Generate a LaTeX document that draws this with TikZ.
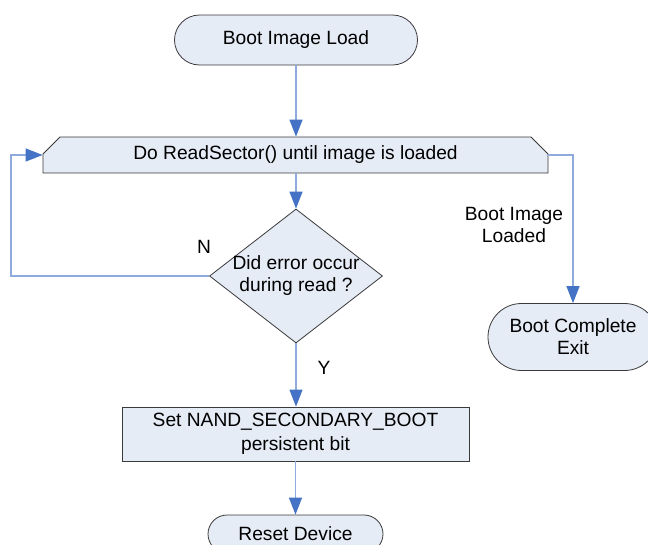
\documentclass[tikz,border=0pt]{standalone}
\usepackage{fontspec}
\setmainfont{Liberation Sans}
\usetikzlibrary{shapes.geometric,shapes.misc,arrows.meta}
\definecolor{fillc}{HTML}{E6ECF6}
\definecolor{linec}{HTML}{8FAADC}
\definecolor{tipc}{HTML}{4472C4}
\definecolor{borderc}{HTML}{3A3A3A}
\begin{document}
\begin{tikzpicture}[x=1pt,y=-1pt,
  font=\fontsize{19.2}{22}\selectfont,
  term/.style={draw=borderc, fill=fillc, line width=0.8pt, rounded rectangle, inner sep=0pt, align=center},
  proc/.style={draw=borderc, fill=fillc, line width=0.8pt, rectangle, inner sep=0pt, align=center},
  chamf/.style={draw=borderc, fill=fillc, line width=0.8pt, chamfered rectangle, chamfered rectangle corners={north west,north east}, chamfered rectangle xsep=8pt, chamfered rectangle ysep=9pt, inner sep=0pt},
  dia/.style={draw=borderc, fill=fillc, line width=0.8pt, diamond, inner sep=0pt},
  conn/.style={draw=linec, line width=1.2pt, -{Triangle[length=17pt,width=13pt,color=tipc]}},
  lbl/.style={align=center, inner sep=0pt}
]
\useasboundingbox (0,0) rectangle (648,544);
\fill[white] (0,0) rectangle (648,544);

\node[term, minimum width=243pt, minimum height=50pt] (bil) at (296,40) {Boot Image Load};
\node[chamf, minimum width=505pt, minimum height=36pt] (rs) at (295.5,155) {Do ReadSector() until image is loaded};
\node[dia, minimum width=173pt, minimum height=134pt] (d) at (296,276) {};
\node[lbl] (dt) at (d.center) {Did error occur\\during read ?};
\node[proc, minimum width=347pt, minimum height=54pt, font=\fontsize{19.2}{24}\selectfont] (nand) at (295.5,434) {Set NAND\_SECONDARY\_BOOT\\persistent bit};
\node[term, minimum width=175pt, minimum height=38pt] (rd) at (295.5,534) {Reset Device};
\node[term, minimum width=170pt, minimum height=67pt] (bc) at (573,337) {Boot Complete\\Exit};

\coordinate (lp) at (11,276);

\draw[conn] (bil.south) -- (bil.south |- rs.north);
\draw[conn] (rs.south -| d.north) -- (d.north);
\draw[conn] (d.west) -- (lp) |- (rs.west);
\draw[conn] (rs.east) -| (bc.north);
\draw[conn] (d.south) -- (d.south |- nand.north);
\draw[conn] (nand.south -| rd.north) -- (rd.north);

\node[lbl] (n) at (204,247) {N};
\node[lbl] (y) at (324,368) {Y};
\node[lbl] (bl) at (514,225) {Boot Image\\Loaded};
\end{tikzpicture}
\end{document}
